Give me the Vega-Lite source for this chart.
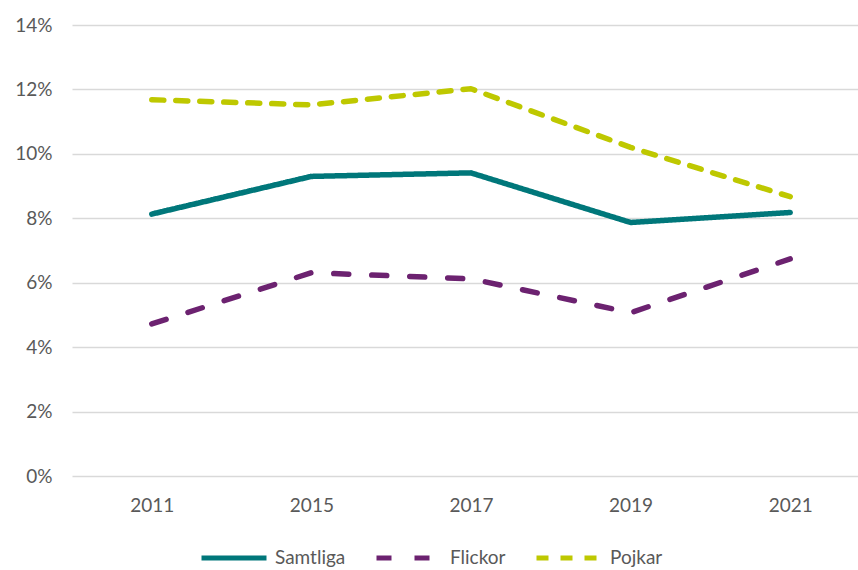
{
  "$schema": "https://vega.github.io/schema/vega-lite/v6.json",
  "autosize": {"type": "none"},
  "padding": {"left": 72, "top": 25, "right": 0, "bottom": 94},
  "width": 798,
  "height": 451,
  "background": "white",
  "config": {
    "font": "Lato",
    "view": {"stroke": null}
  },
  "data": {
    "values": [
      {"year": "2011", "serie": "Samtliga", "value": 8.13},
      {"year": "2015", "serie": "Samtliga", "value": 9.3},
      {"year": "2017", "serie": "Samtliga", "value": 9.41},
      {"year": "2019", "serie": "Samtliga", "value": 7.87},
      {"year": "2021", "serie": "Samtliga", "value": 8.18},
      {"year": "2011", "serie": "Flickor", "value": 4.72},
      {"year": "2015", "serie": "Flickor", "value": 6.31},
      {"year": "2017", "serie": "Flickor", "value": 6.12},
      {"year": "2019", "serie": "Flickor", "value": 5.07},
      {"year": "2021", "serie": "Flickor", "value": 6.74},
      {"year": "2011", "serie": "Pojkar", "value": 11.68},
      {"year": "2015", "serie": "Pojkar", "value": 11.52},
      {"year": "2017", "serie": "Pojkar", "value": 12.02},
      {"year": "2019", "serie": "Pojkar", "value": 10.2},
      {"year": "2021", "serie": "Pojkar", "value": 8.67}
    ]
  },
  "mark": {"type": "line", "strokeWidth": 5.5, "strokeCap": "round", "strokeJoin": "round"},
  "encoding": {
    "x": {
      "field": "year", "type": "ordinal",
      "scale": {"type": "point", "padding": 0.5},
      "axis": {"title": null, "labelAngle": 0, "domain": false, "ticks": false, "grid": false,
               "labelFontSize": 19, "labelColor": "#595959", "labelPadding": 20}
    },
    "y": {
      "field": "value", "type": "quantitative",
      "scale": {"domain": [0, 14], "nice": false},
      "axis": {"title": null, "values": [0, 2, 4, 6, 8, 10, 12, 14], "labelExpr": "datum.value + '%'",
               "domain": false, "ticks": false, "gridColor": "#d9d9d9", "gridWidth": 1.5,
               "labelFontSize": 19, "labelColor": "#595959", "labelPadding": 20}
    },
    "color": {
      "field": "serie", "type": "nominal",
      "scale": {"domain": ["Samtliga", "Flickor", "Pojkar"], "range": ["#00777a", "#6c2270", "#bec800"]},
      "legend": {
        "title": null, "orient": "none", "direction": "horizontal",
        "legendX": 127, "legendY": 498, "padding": 0,
        "symbolType": "stroke", "symbolSize": 4225, "symbolStrokeWidth": 5,
        "labelFontSize": 19, "labelColor": "#595959", "labelOffset": 6, "columnPadding": 20
      }
    },
    "strokeDash": {
      "field": "serie", "type": "nominal",
      "scale": {"domain": ["Samtliga", "Flickor", "Pojkar"], "range": [[1, 0], [15, 23], [12, 12]]},
      "legend": null
    }
  }
}
